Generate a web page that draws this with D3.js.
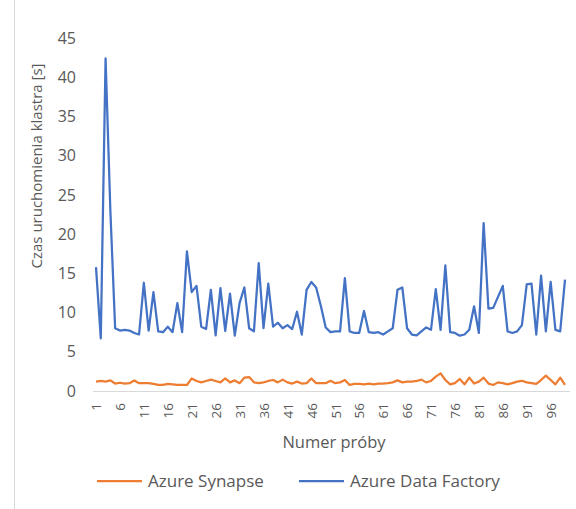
<!DOCTYPE html>
<html>
<head>
<meta charset="utf-8">
<script src="https://cdn.jsdelivr.net/npm/d3@7"></script>
<style>
  body { margin: 0; background: #fff; }
  text { font-family: "Open Sans", sans-serif; fill: #595959; }
</style>
</head>
<body>
<svg id="chart" width="576" height="509"></svg>
<script>
// czas uruchomienia klastra [s], proby 1..99
var synapse = [
  1.2, 1.28, 1.2, 1.35, 0.95, 1.05, 0.95, 1.0, 1.35, 1.0,
  1.0, 1.0, 0.9, 0.77, 0.77, 0.9, 0.85, 0.77, 0.77, 0.77,
  1.6, 1.28, 1.1, 1.28, 1.45, 1.28, 1.1, 1.6, 1.1, 1.35,
  1.0, 1.7, 1.78, 1.1, 1.0, 1.1, 1.28, 1.4, 1.1, 1.45,
  1.1, 0.95, 1.2, 0.95, 1.0, 1.6, 1.0, 1.0, 1.0, 1.3,
  1.0, 1.1, 1.4, 0.77, 0.9, 0.9, 0.85, 0.95, 0.85, 0.95,
  0.95, 1.0, 1.1, 1.35, 1.1, 1.2, 1.2, 1.28, 1.45, 1.1,
  1.28, 1.83, 2.25, 1.4, 0.85, 1.0, 1.53, 0.85, 1.7, 0.95,
  1.2, 1.7, 0.95, 0.77, 1.1, 1.0, 0.85, 1.0, 1.2, 1.3,
  1.1, 1.0, 0.9, 1.4, 1.95, 1.4, 0.85, 1.7, 0.77
]
var dataFactory = [
  15.8, 6.7, 42.4, 23.0, 8.0, 7.7, 7.8, 7.7, 7.4, 7.2,
  13.8, 7.7, 12.6, 7.6, 7.5, 8.2, 7.5, 11.2, 7.5, 17.8,
  12.6, 13.4, 8.2, 7.9, 12.9, 7.1, 13.1, 7.65, 12.4, 7.05,
  11.2, 13.2, 8.0, 7.6, 16.3, 8.0, 13.7, 8.2, 8.7, 8.0,
  8.4, 7.9, 10.1, 7.2, 12.9, 13.9, 13.2, 10.8, 8.1, 7.5,
  7.6, 7.6, 14.4, 7.6, 7.4, 7.4, 10.2, 7.5, 7.4, 7.5,
  7.2, 7.6, 8.0, 12.9, 13.2, 8.0, 7.2, 7.1, 7.6, 8.1,
  7.8, 13.0, 7.8, 16.0, 7.5, 7.4, 7.05, 7.2, 7.8, 10.8,
  7.4, 21.4, 10.5, 10.6, 12.0, 13.4, 7.6, 7.4, 7.6, 8.4,
  13.6, 13.7, 7.2, 14.7, 7.6, 13.9, 7.8, 7.6, 14.2
]
var tickLabels = [1, 6, 11, 16, 21, 26, 31, 36, 41, 46, 51, 56, 61, 66, 71, 76, 81, 86, 91, 96]
var yTicks = [0, 5, 10, 15, 20, 25, 30, 35, 40, 45]
var series = [
  {name: 'Azure Synapse', values: synapse, color: '#ED7D31'},
  {name: 'Azure Data Factory', values: dataFactory, color: '#4472C4'}
]

var svg = d3.select('#chart')

// ramka wykresu
svg.append('line')
  .attr('x1', 14.5).attr('x2', 14.5).attr('y1', 0).attr('y2', 509)
  .attr('stroke', '#d9d9d9').attr('stroke-width', 1)

var n = dataFactory.length
var x = d3.scaleLinear().domain([1, n]).range([96, 565])
var y = d3.scaleLinear().domain([0, 45]).range([391, 38])

// os Y (bez linii)
var yAxis = svg.append('g')
  .attr('transform', 'translate(76,0)')
  .call(d3.axisLeft(y).tickValues(yTicks).tickSize(0).tickPadding(0))
yAxis.select('.domain').remove()
yAxis.selectAll('text').style('font-size', '16px')

// os X
svg.append('line')
  .attr('x1', 93).attr('x2', 570)
  .attr('y1', y(0) + 0.5).attr('y2', y(0) + 0.5)
  .attr('stroke', '#d9d9d9').attr('stroke-width', 1)

var xAxis = svg.append('g')
  .attr('transform', 'translate(0,' + y(0) + ')')
  .call(d3.axisBottom(x).tickValues(tickLabels).tickFormat(d3.format('d')).tickSize(0))
xAxis.select('.domain').remove()
xAxis.selectAll('text')
  .style('font-size', '13.5px')
  .attr('text-anchor', 'end')
  .attr('dy', '0.35em')
  .attr('transform', 'translate(0,12) rotate(-90)')
  .attr('x', 0).attr('y', 0)

// linie serii
var line = d3.line()
  .x(function(d, i) { return x(i + 1) })
  .y(function(d) { return y(d) })

series.forEach(function(s) {
  svg.append('path')
    .datum(s.values)
    .attr('d', line)
    .attr('fill', 'none')
    .attr('stroke', s.color)
    .attr('stroke-width', 2.25)
    .attr('stroke-linejoin', 'round')
})

// tytuly osi
svg.append('text')
  .attr('transform', 'translate(42,166) rotate(-90)')
  .attr('text-anchor', 'middle')
  .style('font-size', '15px')
  .text('Czas uruchomienia klastra [s]')

svg.append('text')
  .attr('x', 334).attr('y', 448)
  .attr('text-anchor', 'middle')
  .style('font-size', '16.5px')
  .text('Numer próby')

// legenda
var legendX = [97, 299]
series.forEach(function(s, i) {
  var g = svg.append('g').attr('transform', 'translate(' + legendX[i] + ',481)')
  g.append('line')
    .attr('x1', 0).attr('x2', 45)
    .attr('stroke', s.color).attr('stroke-width', 2.25)
  g.append('text')
    .attr('x', 51).attr('dy', '0.35em')
    .style('font-size', '17px')
    .text(s.name)
})
</script>
</body>
</html>
